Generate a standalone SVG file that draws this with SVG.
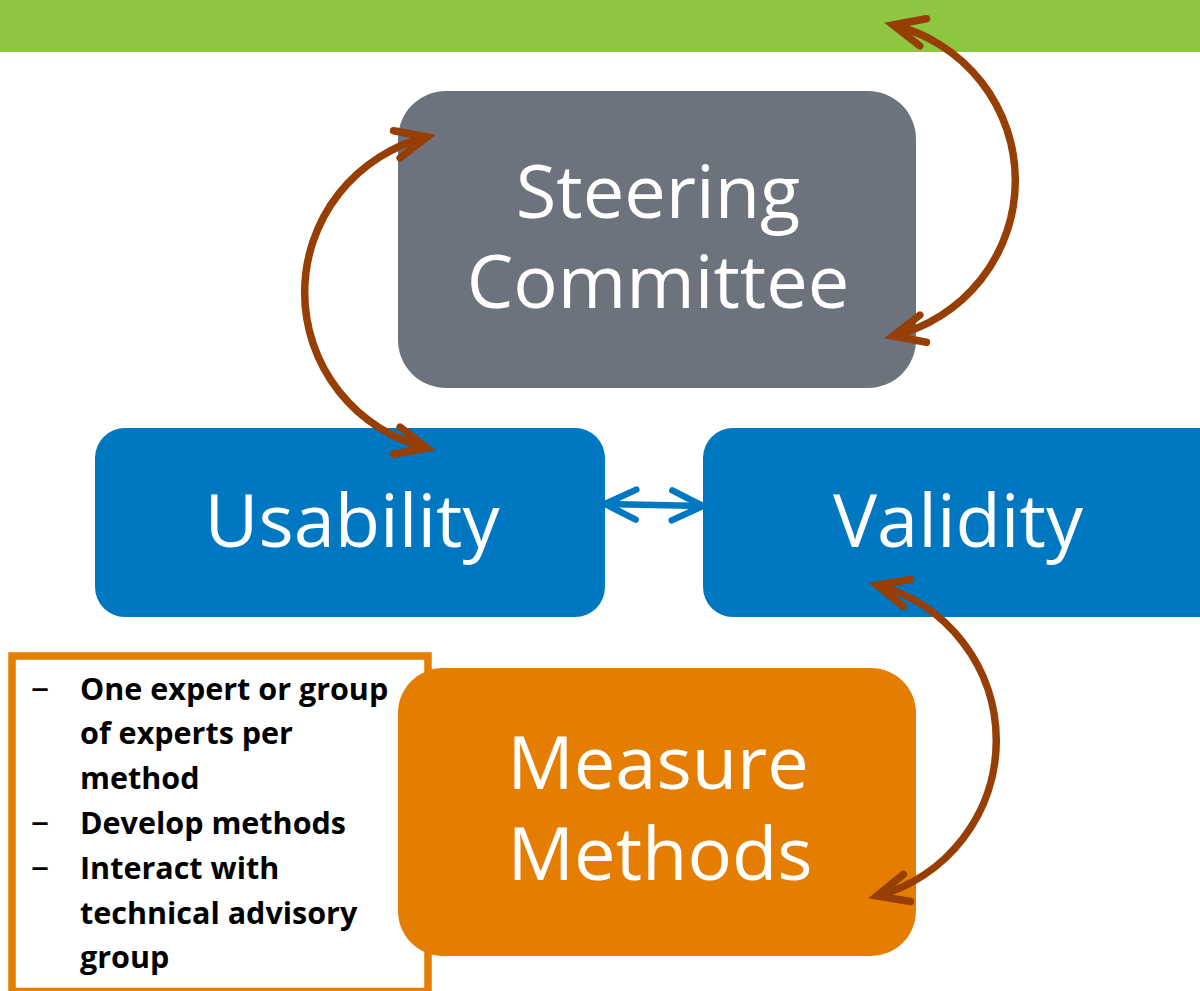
<svg xmlns="http://www.w3.org/2000/svg" width="1200" height="991" viewBox="0 0 1200 991">
  <style>
    .label { font-family: "Open Sans", "Noto Sans", "DejaVu Sans", sans-serif; font-size: 74px; fill: #ffffff; text-anchor: middle; }
    .note { font-family: "Open Sans", "Noto Sans", "DejaVu Sans", sans-serif; font-size: 30.5px; font-weight: 700; fill: #000000; }
    .dash { font-family: "Open Sans", "Noto Sans", "DejaVu Sans", sans-serif; font-size: 36px; font-weight: 400; fill: #000000; }
    .brown { fill: none; stroke: #963E04; stroke-width: 7.5; }
    .blue { fill: none; stroke: #0077C1; stroke-width: 6.5; }
  </style>
  <defs>
    <marker id="headBrown" markerUnits="userSpaceOnUse" markerWidth="60" markerHeight="60" viewBox="-45 -30 60 60" refX="0" refY="0" orient="auto-start-reverse" overflow="visible">
      <path d="M -31 -14 L 0 0 L -31 14" fill="none" stroke="#963E04" stroke-width="7.5" stroke-linecap="round" stroke-linejoin="miter"/>
    </marker>
    <marker id="headBlue" markerUnits="userSpaceOnUse" markerWidth="60" markerHeight="60" viewBox="-45 -30 60 60" refX="0" refY="0" orient="auto-start-reverse" overflow="visible">
      <path d="M -31 -15 L 0 0 L -31 15" fill="none" stroke="#0077C1" stroke-width="6.5" stroke-linecap="round" stroke-linejoin="miter"/>
    </marker>
  </defs>

  <rect x="0" y="0" width="1200" height="991" fill="#ffffff"/>
  <rect id="top-bar" x="0" y="0" width="1200" height="52" fill="#8DC63F"/>

  <g id="notes">
    <rect x="12" y="656" width="416" height="335.5" fill="#ffffff" stroke="#E47D00" stroke-width="7.5"/>
    <text class="dash" x="31" y="700">–</text>
    <text class="note" x="80" y="700">One expert or group</text>
    <text class="note" x="80" y="744">of experts per</text>
    <text class="note" x="80" y="789">method</text>
    <text class="dash" x="31" y="834">–</text>
    <text class="note" x="80" y="834">Develop methods</text>
    <text class="dash" x="31" y="879">–</text>
    <text class="note" x="80" y="879">Interact with</text>
    <text class="note" x="80" y="924">technical advisory</text>
    <text class="note" x="80" y="968">group</text>
  </g>

  <g id="steering-committee">
    <rect x="398" y="91" width="518" height="297" rx="48" ry="48" fill="#6C737C"/>
    <text class="label" x="658" y="218">Steering</text>
    <text class="label" x="658" y="308">Committee</text>
  </g>

  <g id="usability">
    <rect x="95" y="428" width="510" height="189" rx="30" ry="30" fill="#0077C1"/>
    <text class="label" x="352" y="547">Usability</text>
  </g>

  <g id="validity">
    <rect x="703" y="428" width="530" height="189" rx="30" ry="30" fill="#0077C1"/>
    <text class="label" x="958" y="547">Validity</text>
  </g>

  <g id="measure-methods">
    <rect x="398" y="668" width="518" height="288" rx="45" ry="45" fill="#E47D00"/>
    <text class="label" x="658" y="789">Measure</text>
    <text class="label" x="660" y="880">Methods</text>
  </g>

  <g id="connectors">
    <path class="brown" d="M 893 25 A 160 160 0 0 1 893 336" marker-start="url(#headBrown)" marker-end="url(#headBrown)"/>
    <path class="brown" d="M 427 137 A 160 160 0 0 0 427 448" marker-start="url(#headBrown)" marker-end="url(#headBrown)"/>
    <path class="brown" d="M 877 585 A 161 161 0 0 1 877 896" marker-start="url(#headBrown)" marker-end="url(#headBrown)"/>
    <path class="blue" d="M 605 504 L 703 506" marker-start="url(#headBlue)" marker-end="url(#headBlue)"/>
  </g>
</svg>
